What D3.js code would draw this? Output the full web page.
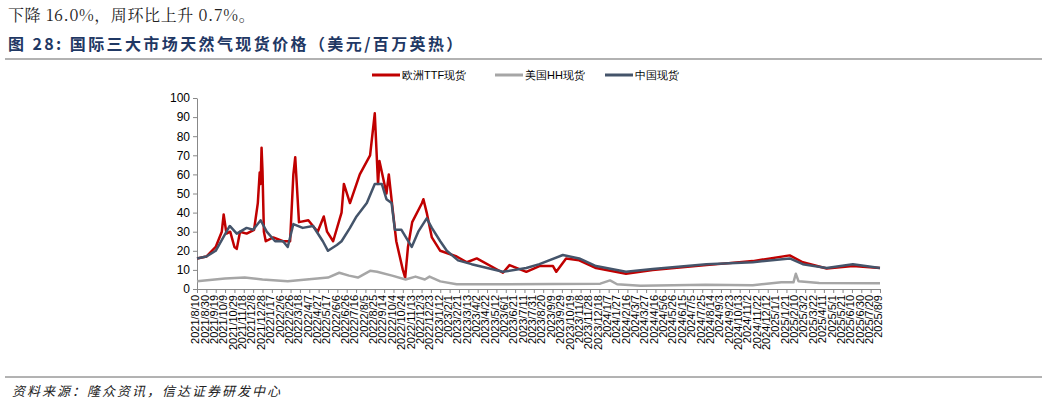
<!DOCTYPE html>
<html><head><meta charset="utf-8">
<script src="https://cdn.jsdelivr.net/npm/d3@7"></script>
<style>
body{margin:0;background:#fff;}
svg text{font-family:"Liberation Sans",Arial,sans-serif;}
</style></head><body>
<div id="chart"></div>
<script>
var ttfDates = ["2021/8/10","2021/8/30","2021/9/19","2021/10/2","2021/10/6","2021/10/12","2021/10/20","2021/10/29","2021/11/3","2021/11/10","2021/11/24","2021/12/10","2021/12/18","2021/12/22","2021/12/24","2021/12/26","2021/12/28","2021/12/31","2022/1/4","2022/1/20","2022/2/10","2022/2/25","2022/3/4","2022/3/8","2022/3/16","2022/4/5","2022/4/25","2022/5/8","2022/5/15","2022/5/28","2022/6/15","2022/6/20","2022/7/3","2022/7/24","2022/8/15","2022/8/25","2022/9/1","2022/9/4","2022/9/19","2022/9/24","2022/10/3","2022/10/10","2022/10/24","2022/10/29","2022/11/4","2022/11/13","2022/12/4","2022/12/7","2022/12/14","2022/12/25","2023/1/12","2023/2/16","2023/3/10","2023/3/31","2023/5/26","2023/6/9","2023/7/15","2023/8/12","2023/9/10","2023/9/17","2023/10/8","2023/11/5","2023/12/11","2024/2/13","2024/4/10","2024/8/3","2024/11/10","2025/1/28","2025/2/25","2025/4/17","2025/6/12","2025/8/9"];
var ttfValues = [16,17,22,30,39,29,30,22,21,30,29,31,45,61,55,74,62,30,25,27,25,25,60,69,35,36,30,38,30,25,40,55,45,60,70,92,55,67,50,60,40,25,10,6,22,35,45,47,40,27,20,17,14,16,8.5,12.5,9,12,12,9,16,15,11,8,10,12.5,14.6,17.6,14,10.7,12,11];

var chinaDates = ["2021/8/10","2021/8/30","2021/9/19","2021/10/19","2021/11/3","2021/11/24","2021/12/8","2021/12/24","2022/1/6","2022/1/24","2022/2/10","2022/2/20","2022/3/4","2022/3/24","2022/4/15","2022/5/6","2022/5/17","2022/6/5","2022/6/15","2022/7/3","2022/7/17","2022/8/8","2022/8/25","2022/9/9","2022/9/19","2022/9/30","2022/10/7","2022/10/21","2022/11/12","2022/11/26","2022/12/14","2022/12/25","2023/1/12","2023/1/26","2023/2/19","2023/3/20","2023/5/26","2023/7/15","2023/8/12","2023/10/1","2023/11/5","2023/12/11","2024/2/13","2024/4/10","2024/8/3","2024/11/10","2025/1/28","2025/2/25","2025/4/17","2025/6/12","2025/8/9"];
var chinaValues = [16,17,20,33,29,32,31,36,30,25,25,22,34,32,33,25,20,23,25,32,38,45,55,55,47,45,31,31,22,30,37,32,25,20,15,13,9,11,13,17.8,16,12,9,10.5,13,14,16,13,11,13,11];

var hhDates = ["2021/8/10","2021/10/9","2021/11/20","2021/12/28","2022/2/20","2022/4/1","2022/5/17","2022/6/10","2022/7/1","2022/7/20","2022/8/15","2022/8/30","2022/10/1","2022/10/30","2022/11/20","2022/12/10","2022/12/20","2023/1/12","2023/2/16","2023/6/1","2023/12/20","2024/1/10","2024/1/25","2024/3/15","2024/8/1","2024/11/10","2025/1/10","2025/2/5","2025/2/10","2025/2/16","2025/4/1","2025/8/9"];
var hhValues = [4,5.5,6,5,4,5,6,8.5,7,6,9.5,9,7,5,6.5,5,6.5,4,2.5,2.5,2.8,4.5,2.5,1.7,2.2,2,3.5,3.5,8,4,3.2,3];

var yTicks = [0,10,20,30,40,50,60,70,80,90,100];
var seriesNames = ["欧洲TTF现货","美国HH现货","中国现货"];
var seriesColors = ["#c00000","#a6a6a6","#44546a"];

var parse = d3.timeParse("%Y/%m/%d");
var fmt = function(d){ return d.getFullYear() + "/" + (d.getMonth()+1) + "/" + d.getDate(); };

var W = 1046, H = 406;
var svg = d3.select("#chart").append("svg").attr("width", W).attr("height", H);

svg.append("text").attr("x", 8).attr("y", 21).style("font-family", "'Noto Serif CJK SC','Noto Sans CJK SC',serif")
    .style("font-size", "16px").style("letter-spacing", "0.6px").attr("fill", "#222").text("下降 16.0%，周环比上升 0.7%。");
svg.append("text").attr("x", 8).attr("y", 50).style("font-family", "'Noto Sans CJK SC',serif")
    .style("font-size", "16px").style("font-weight", "bold").style("letter-spacing", "2.4px").attr("fill", "#1f3864")
    .text("图 28:  国际三大市场天然气现货价格（美元/百万英热）");
svg.append("line").attr("x1", 5).attr("x2", 1042).attr("y1", 59).attr("y2", 59).attr("stroke", "#666").attr("stroke-width", 1.2);
svg.append("line").attr("x1", 5).attr("x2", 1042).attr("y1", 377).attr("y2", 377).attr("stroke", "#666").attr("stroke-width", 1);
svg.append("text").attr("x", 12).attr("y", 396).style("font-family", "'Noto Sans CJK SC',sans-serif")
    .style("font-size", "13px").style("font-style", "italic").style("letter-spacing", "2px").attr("fill", "#222").text("资料来源：隆众资讯，信达证券研发中心");

var x = d3.scaleTime().domain([parse("2021/8/10"), parse("2025/8/9")]).range([197, 880]);
var y = d3.scaleLinear().domain([0, 100]).range([289, 98]);

var tickDates = d3.timeDay.every(1).range(parse("2021/8/10"), d3.timeDay.offset(parse("2025/8/9"), 1))
    .filter(function(d, i){ return i % 20 === 0; });

var yAxis = svg.append("g").attr("transform", "translate(197,0)")
    .call(d3.axisLeft(y).tickValues(yTicks).tickSize(4).tickSizeOuter(0));
yAxis.selectAll("text").style("font-size", "12px").attr("fill", "#000");
yAxis.select(".domain").attr("stroke", "#888");
yAxis.selectAll(".tick line").attr("stroke", "#888");

var xAxis = svg.append("g").attr("transform", "translate(0,289)")
    .call(d3.axisBottom(x).tickValues(tickDates).tickFormat(fmt).tickSize(4).tickSizeOuter(0));
xAxis.select(".domain").attr("stroke", "#888");
xAxis.selectAll(".tick line").attr("stroke", "#888");
xAxis.selectAll("text").style("font-size", "11px").attr("fill", "#000")
    .attr("text-anchor", "end").attr("transform", "rotate(-90)").attr("dx", "-6px").attr("dy", "-0.2em").attr("x", 0).attr("y", 0)
    .attr("dominant-baseline", "central");

var line = d3.line().x(function(d){ return x(d[0]); }).y(function(d){ return y(d[1]); });
function pts(ds, vs){ return ds.map(function(d, i){ return [parse(d), vs[i]]; }); }
var series = [pts(ttfDates, ttfValues), pts(hhDates, hhValues), pts(chinaDates, chinaValues)];
series.forEach(function(s, i){
    svg.append("path").datum(s).attr("d", line).attr("fill", "none")
        .attr("stroke", seriesColors[i]).attr("stroke-width", 2.5).attr("stroke-linejoin", "round");
});

var legendX = [372, 495, 605];
seriesNames.forEach(function(n, i){
    var g = svg.append("g").attr("transform", "translate(" + legendX[i] + ",75)");
    g.append("line").attr("x1", 0).attr("x2", 28).attr("stroke", seriesColors[i]).attr("stroke-width", 3);
    g.append("text").attr("x", 30).attr("y", 4).style("font-size", "11px").attr("fill", "#000").text(n);
});
</script>
</body></html>
